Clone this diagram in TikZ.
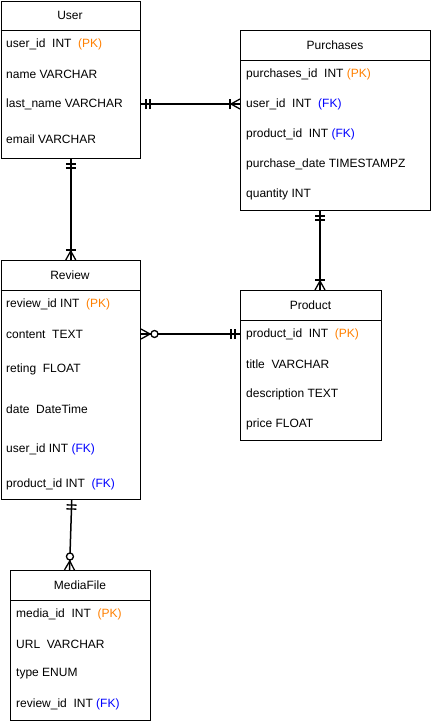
\documentclass[tikz,border=0pt]{standalone}
\usepackage{fontspec}
\setmainfont{Liberation Sans}
\usetikzlibrary{calc,positioning,decorations.markings}
\definecolor{pkorange}{HTML}{FF8000}
\definecolor{fkblue}{HTML}{0000FF}
\newcommand{\pk}{{\color{pkorange}(PK)}}
\newcommand{\fk}{{\color{fkblue}(FK)}}
\tikzset{
  entity/.style={
    draw,
    line width=1pt,
    anchor=north west,
    inner sep=0pt
  },
  etitle/.style={
    font=\fontsize{12}{14}\selectfont,
    inner sep=0pt
  },
  attr/.style={
    anchor=west,
    font=\fontsize{12}{14}\selectfont,
    inner sep=0pt
  },
  rel/.style={
    line width=1.5pt
  },
  % mandatory one
  oneStart/.style={postaction={decorate,decoration={markings,
    mark=at position 5pt with {\draw[line width=1.3pt] (0,-5pt) -- (0,5pt);},
    mark=at position 9pt with {\draw[line width=1.3pt] (0,-5pt) -- (0,5pt);}}}},
  oneEnd/.style={postaction={decorate,decoration={markings,
    mark=at position -5pt with {\draw[line width=1.3pt] (0,-5pt) -- (0,5pt);},
    mark=at position -9pt with {\draw[line width=1.3pt] (0,-5pt) -- (0,5pt);}}}},
  % one or many
  manyEnd/.style={postaction={decorate,decoration={markings,
    mark=at position -10pt with {\draw[line width=1.3pt] (0,-5pt) -- (0,5pt);},
    mark=at position -9pt with {\draw[line width=1.3pt] (0,0) -- (9pt,5pt) (0,0) -- (9pt,-5pt);}}}},
  % zero or many
  zeroManyStart/.style={postaction={decorate,decoration={markings,
    mark=at position 9pt with {\draw[line width=1.3pt] (0,0) -- (-9pt,5pt) (0,0) -- (-9pt,-5pt);},
    mark=at position 13.5pt with {\draw[line width=1.3pt,fill=white] (0,0) circle (3.5pt);}}}},
  zeroManyEnd/.style={postaction={decorate,decoration={markings,
    mark=at position -9pt with {\draw[line width=1.3pt] (0,0) -- (9pt,5pt) (0,0) -- (9pt,-5pt);},
    mark=at position -13.5pt with {\draw[line width=1.3pt,fill=white] (0,0) circle (3.5pt);}}}}
}

\begin{document}
\begin{tikzpicture}[x=1pt,y=-1pt]
    \useasboundingbox[fill=white] (0,0) rectangle (431,721);

    % tables
    \node[entity, minimum width=139.5pt, minimum height=157.5pt] (user) at (0.5,0.5) {};
    \node[entity, minimum width=190pt, minimum height=180pt] (purchases) at (240,30) {};
    \node[entity, minimum width=139.5pt, minimum height=239pt] (review) at (0.5,260) {};
    \node[entity, minimum width=141pt, minimum height=150pt] (product) at (240,290) {};
    \node[entity, minimum width=140pt, minimum height=150pt] (mediafile) at (10,570) {};
    \foreach \e in {user,purchases,review,product,mediafile}{
        \draw[line width=1pt] ([yshift=-30pt]\e.north west) -- ([yshift=-30pt]\e.north east);
    }

    % titles
    \node[etitle] (user-title) at (70,15) {User};
    \node[etitle] (purchases-title) at (335,45) {Purchases};
    \node[etitle] (review-title) at (70,275) {Review};
    \node[etitle] (product-title) at (310.5,305) {Product};
    \node[etitle] (mediafile-title) at (80,585) {MediaFile};

    % attributes
    \foreach \y/\txt [count=\i] in {44/user\_id~ INT~ \pk, 74/name VARCHAR,
        104/last\_name VARCHAR, 139/email VARCHAR}{
        \node[attr] (user-\i) at (6,\y) {\txt};
    }
    \foreach \y/\txt [count=\i] in {74/purchases\_id~ INT \pk, 104/user\_id~ INT~ \fk,
        134/product\_id~ INT \fk, 164/purchase\_date TIMESTAMPZ, 194/quantity INT}{
        \node[attr] (purchases-\i) at (246,\y) {\txt};
    }
    \foreach \y/\txt [count=\i] in {304/review\_id INT~ \pk, 334/content~ TEXT,
        369/reting~ FLOAT, 409/date~ DateTime, 449/user\_id INT \fk,
        484/product\_id INT~ \fk}{
        \node[attr] (review-\i) at (6,\y) {\txt};
    }
    \foreach \y/\txt [count=\i] in {334/product\_id~ INT~ \pk, 364/title~ VARCHAR,
        394/description TEXT, 424/price FLOAT}{
        \node[attr] (product-\i) at (246,\y) {\txt};
    }
    \foreach \y/\txt [count=\i] in {614/media\_id~ INT~ \pk, 644/URL~ VARCHAR,
        674/type ENUM, 704/review\_id~ INT \fk}{
        \node[attr] (mediafile-\i) at (16,\y) {\txt};
    }

    % relations
    \coordinate (pp) at (320,0);
    \draw[rel, oneStart, manyEnd] (user.east |- purchases-2.west) -- (purchases.west |- purchases-2.west);
    \draw[rel, oneStart, manyEnd] (user.south) -- (review.north);
    \draw[rel, oneStart, manyEnd] (purchases.south -| pp) -- (product.north -| pp);
    \draw[rel, zeroManyStart, oneEnd] (review.east |- product-1.west) -- (product.west |- product-1.west);
    \draw[rel, oneStart, zeroManyEnd] ([xshift=1pt]review.south) -- ([xshift=-11pt]mediafile.north);
\end{tikzpicture}
\end{document}
